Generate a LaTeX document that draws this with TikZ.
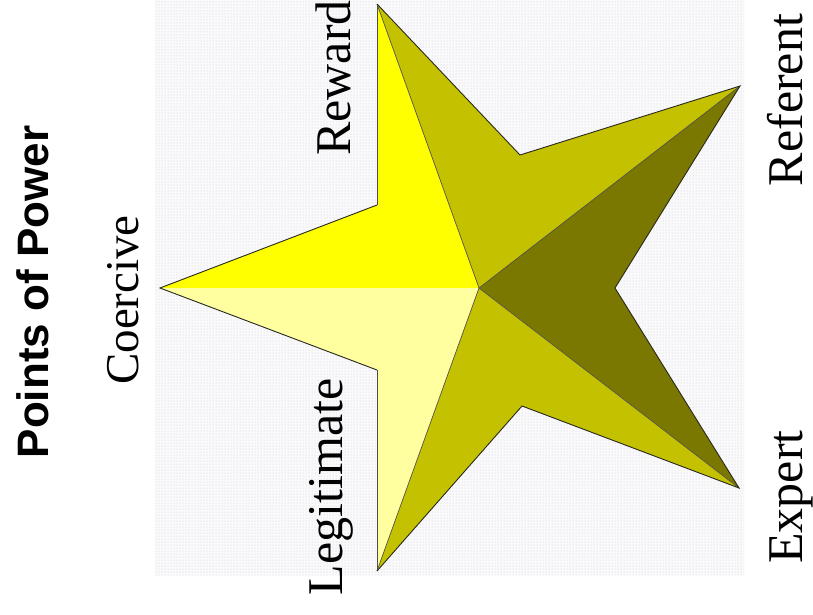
\documentclass[tikz,border=0pt]{standalone}
\usepackage{fontspec}
\setmainfont{Liberation Serif}
\newfontfamily\titlefont{Liberation Sans}
\usetikzlibrary{patterns}
\definecolor{brightyel}{RGB}{255,255,0}
\definecolor{paleyel}{RGB}{255,255,160}
\definecolor{oliveyel}{RGB}{196,194,0}
\definecolor{darkolive}{RGB}{122,120,0}
\definecolor{dotcol}{RGB}{200,200,228}
\definecolor{bgcol}{RGB}{250,250,250}
\definecolor{edgecol}{RGB}{40,40,30}
\tikzset{
  facet/.style={draw=none},
  outline/.style={draw=edgecol, line width=0.9pt, line join=miter},
  inneredge/.style={draw=edgecol!80, line width=0.7pt},
  sideedge/.style={draw=black!70, line width=0.9pt},
  lbl/.style={rotate=90, anchor=base, inner sep=0pt, font=\fontsize{50}{50}\selectfont},
  ttl/.style={rotate=90, anchor=base, inner sep=0pt, font=\titlefont\bfseries\fontsize{44}{44}\selectfont}
}
\begin{document}
\begin{tikzpicture}[x=1pt, y=-1pt]
\useasboundingbox (0,0) rectangle (813,614);
\fill[white] (0,0) rectangle (813,614);
% stippled background
\fill[bgcol] (155,0) rectangle (744,575);
\fill[pattern=dots, pattern color=dotcol] (155,0) rectangle (744,575);
% vertices
\coordinate (C)  at (479,288);
\coordinate (Re) at (377,4);
\coordinate (Co) at (160,288);
\coordinate (Le) at (377,571);
\coordinate (Rf) at (740,86);
\coordinate (Ex) at (739,488);
\coordinate (I1) at (377,205);
\coordinate (I2) at (377,370);
\coordinate (I3) at (522,406);
\coordinate (I4) at (615,288);
\coordinate (I5) at (520,155);
% facets
\fill[brightyel] (Re) -- (I1) -- (Co) -- (C) -- cycle;
\fill[paleyel] (Co) -- (I2) -- (Le) -- (C) -- cycle;
\fill[oliveyel] (Re) -- (I5) -- (Rf) -- (C) -- cycle;
\fill[darkolive] (C) -- (Rf) -- (I4) -- (Ex) -- cycle;
\fill[oliveyel] (C) -- (Ex) -- (I3) -- (Le) -- cycle;
% edges
\draw[inneredge] (Re) -- (C);
\draw[inneredge] (Le) -- (C);
\draw[inneredge] (Rf) -- (C);
\draw[inneredge] (Ex) -- (C);
\draw[sideedge] (Re) -- (I1);
\draw[sideedge] (I2) -- (Le);
\draw[outline] (I1) -- (Co) -- (I2);
\draw[outline] (Le) -- (I3) -- (Ex) -- (I4) -- (Rf) -- (I5) -- (Re);
% labels
\node[ttl] (title) at (48,292) {Points of Power};
\node[lbl, font=\fontsize{47}{47}\selectfont] (coercive) at (138,300) {Coercive};
\node[lbl] (reward) at (350,78) {Reward};
\node[lbl] (legit) at (342,487) {Legitimate};
\node[lbl] (referent) at (802,100) {Referent};
\node[lbl] (expert) at (802,497) {Expert};
\end{tikzpicture}
\end{document}
